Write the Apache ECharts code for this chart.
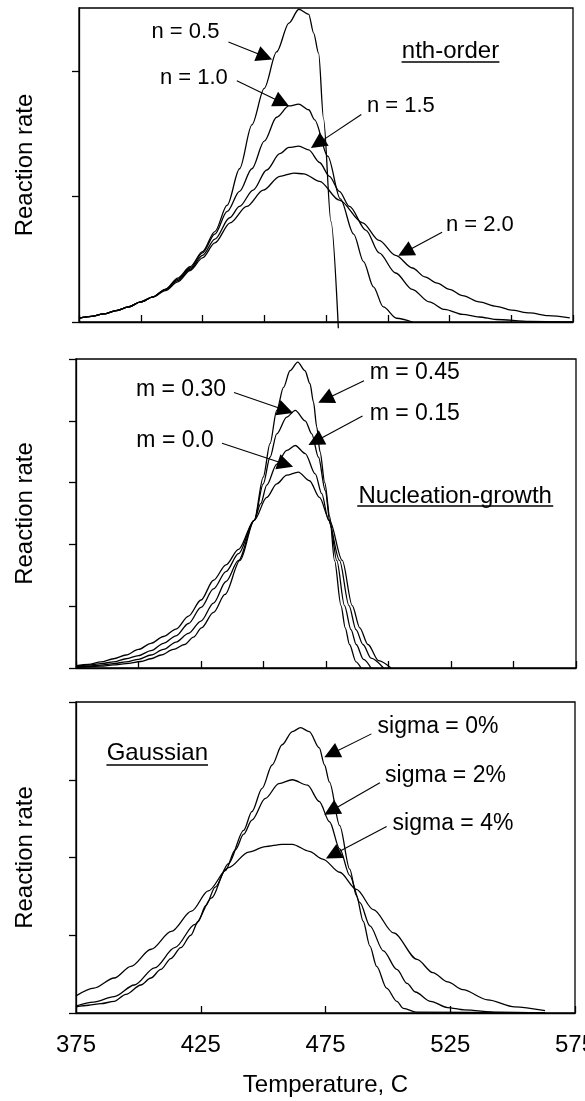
<!DOCTYPE html>
<html><head><meta charset="utf-8">
<script src="https://cdn.jsdelivr.net/npm/echarts@6/dist/echarts.min.js"></script>
<style>html,body{margin:0;padding:0;background:#fff}#c{width:585px;height:1101px}</style>
</head><body><div id="c"></div>
<script>
// ---------- tick labels ----------
const tempTicks = [375, 425, 475, 525, 575];

// ---------- nth-order panel: [temperature, rate] ----------
const n05 = [[375,0.03],[380,0.045],[385,0.065],[390,0.09],[395,0.12],[400,0.16],[405,0.2],[410,0.26],[415,0.35],[420,0.44],[425,0.56],[430,0.72],[435,0.93],[440,1.22],[445,1.57],[450,1.86],[455,2.15],[460,2.38],[464,2.49],[468,2.45],[470,2.3],[472,2.14],[474,1.62],[477,0.8],[480,-0.05]];
const n10 = [[375,0.03],[380,0.045],[385,0.065],[390,0.09],[395,0.12],[400,0.16],[405,0.2],[410,0.26],[415,0.34],[420,0.43],[425,0.55],[430,0.7],[435,0.88],[440,1.04],[445,1.22],[450,1.44],[455,1.63],[460,1.72],[464,1.735],[468,1.69],[470.4,1.61],[475.7,1.32],[480.8,0.98],[486.2,0.7],[490.2,0.48],[494.2,0.28],[498.2,0.12],[503.6,0.03],[510,0]];
const n15 = [[375,0.03],[380,0.045],[385,0.065],[390,0.09],[395,0.12],[400,0.16],[405,0.2],[410,0.26],[415,0.33],[420,0.42],[425,0.53],[430,0.66],[436,0.83],[440,0.92],[445.5,1.05],[451,1.21],[456.3,1.34],[460,1.39],[464,1.4],[468,1.37],[472.4,1.27],[476.4,1.16],[480.4,1.04],[484.5,0.92],[491.2,0.73],[496.5,0.55],[503.2,0.39],[509.9,0.26],[516.8,0.16],[523,0.1],[530.3,0.06],[537,0.04],[543.9,0.02],[557.5,0.005],[575,0]];
const n20 = [[375,0.03],[380,0.045],[385,0.065],[390,0.09],[395,0.12],[400,0.16],[405,0.2],[410,0.25],[415,0.32],[420,0.41],[425,0.51],[430,0.63],[436.2,0.79],[442.9,0.92],[449.6,1.05],[456.3,1.16],[462,1.185],[466,1.18],[472.4,1.12],[480.4,0.97],[489.8,0.79],[496.5,0.65],[503.2,0.53],[510,0.43],[515,0.36],[520,0.31],[525,0.26],[530.3,0.21],[537,0.16],[543.9,0.125],[550,0.095],[557.5,0.072],[565,0.05],[573.7,0.032]];

// ---------- Nucleation-growth panel ----------
const m00 = [[375,0.04],[380,0.06],[385,0.1],[390,0.15],[395,0.21],[400,0.3],[405,0.4],[410,0.51],[415,0.63],[420,0.84],[425,1.1],[430,1.42],[435,1.67],[440,1.92],[446.3,2.39],[451.3,2.76],[455.3,2.98],[459.3,3.12],[463.9,3.17],[468.4,3.03],[472.4,2.76],[476.4,2.39],[481.5,1.74],[485.5,1.01],[488.5,0.65],[491.8,0.38],[496,0.12],[501,0]];
const m15 = [[375,0.03],[380,0.045],[385,0.07],[390,0.1],[395,0.15],[400,0.2],[405,0.28],[410,0.4],[415,0.52],[420,0.72],[425,0.98],[430,1.28],[435,1.56],[440,1.85],[446.3,2.39],[448.9,2.66],[451.3,2.96],[455.3,3.3],[459.3,3.52],[462.7,3.6],[466.7,3.47],[470.7,3.14],[473.3,2.82],[476,2.39],[480.4,1.74],[484.2,1.01],[487,0.62],[489.8,0.38],[493,0.16],[498,0]];
const m30 = [[375,0.02],[380,0.03],[385,0.045],[390,0.07],[395,0.1],[400,0.14],[405,0.21],[410,0.3],[415,0.42],[420,0.56],[425,0.76],[430,1.05],[435,1.4],[440,1.74],[446.3,2.39],[449.9,2.98],[452.6,3.41],[455.3,3.79],[459.3,4.06],[462.7,4.17],[466.7,4.0],[469.3,3.79],[472,3.41],[474.7,2.87],[476.7,2.33],[479.3,1.74],[482.4,1.01],[485,0.62],[487.1,0.38],[490,0.14],[493,0]];
const m45 = [[375,0.01],[380,0.02],[385,0.03],[390,0.05],[395,0.07],[401,0.105],[405,0.15],[409,0.21],[414,0.3],[418.4,0.38],[422,0.5],[425.2,0.65],[430,0.9],[434.6,1.19],[440.6,1.74],[446.3,2.39],[449.9,3.09],[452.6,3.63],[455.3,4.17],[458,4.54],[460.6,4.81],[463.7,4.95],[466.6,4.81],[468.6,4.6],[470,4.3],[471.3,3.9],[472.6,3.5],[474.5,3.0],[476.5,2.45],[478.4,1.74],[481,1.01],[482.7,0.65],[484.4,0.38],[487,0.1],[489,0]];

// ---------- Gaussian panel ----------
const s0 = [[375,0.08],[380,0.1],[385,0.12],[390.3,0.15],[395,0.24],[401,0.36],[405,0.45],[409,0.56],[413,0.7],[417,0.84],[421,1.0],[424,1.18],[427,1.38],[430.8,1.62],[436.1,1.92],[442.2,2.35],[445.5,2.59],[449.6,2.89],[453.6,3.19],[457.6,3.45],[461.7,3.62],[465,3.67],[468.5,3.62],[472.5,3.41],[474.6,3.19],[476.6,2.97],[480.7,2.41],[484.7,1.85],[487.4,1.51],[490.1,1.18],[492.8,0.86],[495.5,0.6],[499.5,0.32],[503.6,0.15],[506.2,0.06],[511.7,0.01],[563,0]];
const s2 = [[375,0.09],[382,0.14],[390.3,0.21],[398.4,0.36],[406.5,0.58],[414.6,0.84],[422.7,1.14],[429.4,1.48],[434.8,1.83],[438.9,2.1],[442.2,2.3],[445.5,2.48],[450.9,2.76],[456.3,2.95],[461.7,3.0],[467.8,2.93],[472.5,2.72],[476.6,2.46],[480.7,2.11],[484.7,1.77],[488.8,1.42],[492.8,1.12],[498.2,0.8],[503.6,0.56],[507.7,0.38],[511,0.27],[517.1,0.15],[523.9,0.07],[530.6,0.04],[544,0.01],[563,0]];
const s4 = [[375,0.22],[382.2,0.32],[390.3,0.45],[397,0.6],[405.1,0.82],[413.2,1.05],[421.3,1.31],[428,1.57],[436.1,1.87],[444.2,2.07],[450.9,2.14],[457.6,2.17],[461.7,2.17],[468.5,2.08],[473.9,1.98],[480.7,1.81],[487.4,1.59],[494.2,1.33],[502.3,1.03],[511.7,0.69],[518,0.52],[524,0.4],[530,0.3],[540,0.17],[550.8,0.08],[563,0.03]];

// ---------- annotations (data coordinates) ----------
const topLabels = [['n = 0.5',418.1,2.31],['n = 1.0',421.5,1.947],['n = 1.5',505.3,1.72],['n = 2.0',537.3,0.775]];
const topArrows = [[435.5,2.23,450.2,2.113],[438.9,1.92,457.1,1.748],[489.3,1.652,471.6,1.42],[522.0,0.714,507.1,0.557]];
const topTitle = ['nth-order',525.4,2.153, 505.6,545.2,2.074];
const midLabels = [['m = 0.45',510.5,4.773],['m = 0.30',417,4.498],['m = 0.15',510.5,4.118],['m = 0.0',414.6,3.68]];
const midArrows = [[490.2,4.649,474.8,4.35],[438.2,4.458,458.8,4.17],[489.6,4.078,470.8,3.67],[433.4,3.638,458.8,3.296]];
const midTitle = ['Nucleation-growth',526.7,2.78, 487.5,565.9,2.626];
const botLabels = [['sigma = 0%',520.1,3.685],['sigma = 2%',523.1,3.048],['sigma = 4%',526.1,2.431]];
const botArrows = [[493.4,3.59,477.4,3.334],[496.8,2.962,477.3,2.602],[499.5,2.399,478.0,2.035]];
const botTitle = ['Gaussian',407.6,3.335, 387.2,427.9,3.192];

const FONT = '"Liberation Sans", Arial, Helvetica, sans-serif';
const BLACK = '#000';

const chart = echarts.init(document.getElementById('c'), null, {renderer: 'canvas'});

const gridDefs = [
  {left: 79, top: 8, width: 494, height: 314},
  {left: 76, top: 359, width: 500, height: 309},
  {left: 76, top: 702, width: 499, height: 311}
];
const grids = gridDefs.map(g => Object.assign({
  show: true, borderColor: BLACK, borderWidth: 1.3, backgroundColor: '#fff',
  containLabel: false, outerBoundsMode: 'none'
}, g));

function xAxisFor(i) {
  const bottom = i === 2;
  const ax = {
    type: 'value', gridIndex: i, min: 375, max: 575, interval: 25,
    axisLine: {show: true, onZero: false, lineStyle: {color: BLACK, width: 1.3}},
    axisTick: {show: true, inside: true, length: 7, lineStyle: {color: BLACK, width: 1.3}},
    axisLabel: {show: false},
    splitLine: {show: false}
  };
  if (bottom) {
    ax.axisTick.customValues = tempTicks;
    ax.axisLabel = {show: true, customValues: tempTicks, color: BLACK, fontSize: 24,
      fontFamily: FONT, margin: 20, showMaxLabel: true, showMinLabel: true, hideOverlap: false};
    ax.name = 'Temperature, C';
    ax.nameLocation = 'middle';
    ax.nameGap = 60;
    ax.nameTextStyle = {color: BLACK, fontSize: 24, fontFamily: FONT};
  }
  return ax;
}
const yMax = [2.5, 5, 4];
function yAxisFor(i) {
  const ax = {
    type: 'value', gridIndex: i, min: 0, max: yMax[i], interval: 1,
    axisLine: {show: true, lineStyle: {color: BLACK, width: 1.3}},
    axisTick: {show: true, inside: false, length: 7, lineStyle: {color: BLACK, width: 1.3}},
    axisLabel: {show: false},
    splitLine: {show: false},
    name: 'Reaction rate', nameLocation: 'middle', nameRotate: 90,
    nameGap: i === 0 ? 42 : 39,
    nameTextStyle: {color: BLACK, fontSize: 24, fontFamily: FONT}
  };
  if (i === 0) ax.axisTick.customValues = [0, 1, 2];
  return ax;
}

function curve(name, data, gi) {
  return {
    name, type: 'line', xAxisIndex: gi, yAxisIndex: gi, data,
    showSymbol: false, symbol: 'none', smooth: 0.3, smoothMonotone: 'x',
    lineStyle: {color: BLACK, width: 1.3}, itemStyle: {color: BLACK},
    animation: false, silent: true, z: 3
  };
}

function annotate(series, labels, arrows, title, labelSize) {
  const lines = arrows.map(a => [
    {coord: [a[0], a[1]], symbol: 'none'},
    {coord: [a[2], a[3]], symbol: 'triangle', symbolSize: 16}
  ]);
  lines.push([
    {coord: [title[3], title[5]], symbol: 'none', lineStyle: {width: 1.7, color: BLACK, type: 'solid'}},
    {coord: [title[4], title[5]], symbol: 'none', lineStyle: {width: 1.7, color: BLACK, type: 'solid'}}
  ]);
  series.markLine = {
    silent: true, animation: false, symbol: ['none', 'triangle'], symbolSize: 16,
    label: {show: false}, emphasis: {disabled: true},
    lineStyle: {color: BLACK, width: 1.1, type: 'solid'},
    itemStyle: {color: BLACK},
    data: lines
  };
  const pts = labels.map(l => ({
    coord: [l[1], l[2]], symbol: 'circle', symbolSize: 1,
    itemStyle: {color: 'rgba(0,0,0,0)'},
    label: {show: true, position: 'inside', formatter: l[0], color: BLACK,
      fontSize: labelSize, fontFamily: FONT}
  }));
  pts.push({
    coord: [title[1], title[2]], symbol: 'circle', symbolSize: 1,
    itemStyle: {color: 'rgba(0,0,0,0)'},
    label: {show: true, position: 'inside', formatter: title[0], color: BLACK,
      fontSize: 24, fontFamily: FONT}
  });
  series.markPoint = {silent: true, animation: false, data: pts};
}

const sTop = [curve('n = 0.5', n05, 0), curve('n = 1.0', n10, 0), curve('n = 1.5', n15, 0), curve('n = 2.0', n20, 0)];
sTop[0].clip = false;
const sMid = [curve('m = 0.0', m00, 1), curve('m = 0.15', m15, 1), curve('m = 0.30', m30, 1), curve('m = 0.45', m45, 1)];
const sBot = [curve('sigma = 0%', s0, 2), curve('sigma = 2%', s2, 2), curve('sigma = 4%', s4, 2)];
annotate(sTop[0], topLabels, topArrows, topTitle, 22);
annotate(sMid[0], midLabels, midArrows, midTitle, 23);
annotate(sBot[0], botLabels, botArrows, botTitle, 23);

chart.setOption({
  animation: false,
  backgroundColor: '#fff',
  textStyle: {fontFamily: FONT},
  grid: grids,
  xAxis: [0, 1, 2].map(xAxisFor),
  yAxis: [0, 1, 2].map(yAxisFor),
  series: [...sTop, ...sMid, ...sBot]
});
</script>
</body></html>
